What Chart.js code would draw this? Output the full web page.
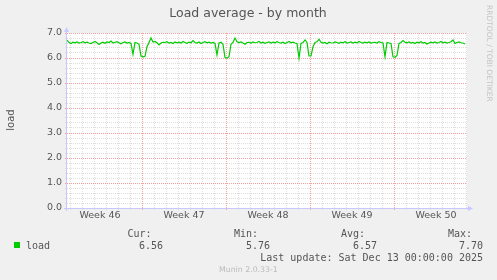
<!DOCTYPE html>
<html>
<head>
<meta charset="utf-8">
<script src="https://cdn.jsdelivr.net/npm/chart.js@4.4.0/dist/chart.umd.min.js"></script>
<style>
  html, body { margin: 0; padding: 0; background: #f0f0f0; }
  canvas { display: block; }
</style>
</head>
<body>
<canvas id="loadChart" width="497" height="280"></canvas>
<script>
// Load average, one sample every 4 hours from the left edge of the graph
const stepHours = 4;
const loadValues = [
  6.72, 6.62, 6.58, 6.63, 6.61, 6.64, 6.60, 6.62, 6.65, 6.61,
  6.63, 6.60, 6.58, 6.62, 6.66, 6.61, 6.54, 6.60, 6.63, 6.59,
  6.64, 6.62, 6.68, 6.60, 6.63, 6.65, 6.61, 6.57, 6.62, 6.64,
  6.60, 6.62, 6.58, 6.15, 6.62, 6.60, 6.55, 6.08, 6.05, 6.07,
  6.45, 6.62, 6.80, 6.64, 6.66, 6.61, 6.52, 6.60, 6.63, 6.62,
  6.65, 6.60, 6.62, 6.58, 6.64, 6.61, 6.63, 6.60, 6.66, 6.62,
  6.59, 6.63, 6.61, 6.70, 6.62, 6.60, 6.64, 6.58, 6.62, 6.65,
  6.61, 6.63, 6.60, 6.62, 6.58, 6.12, 6.60, 6.63, 6.55, 6.02,
  6.00, 6.05, 6.55, 6.62, 6.80, 6.65, 6.62, 6.64, 6.60, 6.55,
  6.62, 6.63, 6.60, 6.64, 6.61, 6.62, 6.66, 6.60, 6.63, 6.59,
  6.62, 6.64, 6.60, 6.63, 6.61, 6.65, 6.62, 6.60, 6.63, 6.58,
  6.62, 6.66, 6.61, 6.63, 6.60, 6.58, 6.00, 6.58, 6.62, 6.72,
  6.62, 6.08, 6.08, 6.45, 6.62, 6.65, 6.75, 6.63, 6.60, 6.62,
  6.57, 6.63, 6.61, 6.60, 6.64, 6.62, 6.59, 6.63, 6.61, 6.65,
  6.60, 6.62, 6.64, 6.60, 6.63, 6.61, 6.66, 6.62, 6.60, 6.63,
  6.61, 6.64, 6.60, 6.62, 6.63, 6.60, 6.65, 6.62, 6.60, 6.05,
  6.62, 6.60, 6.58, 6.05, 6.03, 6.10, 6.58, 6.62, 6.70, 6.63,
  6.61, 6.64, 6.60, 6.62, 6.58, 6.63, 6.61, 6.65, 6.60, 6.62,
  6.56, 6.60, 6.63, 6.61, 6.64, 6.60, 6.62, 6.66, 6.61, 6.63,
  6.60, 6.62, 6.65, 6.72, 6.58, 6.62, 6.64, 6.61, 6.60, 6.56
];

// Time axis (hours from left edge)
const spanHours = 800;
const firstDayLine = 6;
const weekStartHours = [150, 318, 486, 654];
const weekMidHours = [66, 234, 402, 570, 738];
const weekLabels = ['Week 46', 'Week 47', 'Week 48', 'Week 49', 'Week 50'];

// Value axis
const yMax = 7;
const yMinorStep = 0.2;

// Legend
const seriesName = 'load';
const statLabels = ['Cur:', 'Min:', 'Avg:', 'Max:'];
const statValues = ['6.56', '5.76', '6.57', '7.70'];
const lastUpdate = 'Last update: Sat Dec 13 00:00:00 2025';

const points = loadValues.map((v, i) => ({ x: i * stepHours, y: v }));

const majorGrid = '#f4a0a0';
const minorGrid = '#dedede';
const axisColor = '#c8c8ff';
const textColor = '#555555';

// background, white plot area, texts and axis arrows
const muninDecor = {
  id: 'muninDecor',
  beforeDraw(chart) {
    const { ctx, chartArea: a } = chart;
    ctx.save();
    ctx.fillStyle = '#f0f0f0';
    ctx.fillRect(0, 0, chart.width, chart.height);
    ctx.fillStyle = '#ffffff';
    ctx.fillRect(a.left, a.top, a.right - a.left, a.bottom - a.top);
    ctx.restore();
  },
  afterDraw(chart) {
    const { ctx, chartArea: a } = chart;
    ctx.save();
    // title
    ctx.fillStyle = textColor;
    ctx.font = '12.5px "DejaVu Sans"';
    ctx.textAlign = 'center';
    ctx.textBaseline = 'alphabetic';
    ctx.fillText('Load average - by month', 248, 17);

    // y axis title
    ctx.save();
    ctx.translate(14, 120);
    ctx.rotate(-Math.PI / 2);
    ctx.font = '10px "DejaVu Sans"';
    ctx.fillText(seriesName, 0, 0);
    ctx.restore();

    // rrdtool credit on the right
    ctx.save();
    ctx.translate(487, 5);
    ctx.rotate(Math.PI / 2);
    ctx.fillStyle = '#c4c4c4';
    ctx.font = '7.5px "DejaVu Sans"';
    ctx.textAlign = 'left';
    ctx.fillText('RRDTOOL / TOBI OETIKER', 0, 0);
    ctx.restore();

    // arrows on the axes
    ctx.fillStyle = axisColor;
    ctx.beginPath();
    ctx.moveTo(a.left - 3, a.top - 1);
    ctx.lineTo(a.left + 2, a.top - 1);
    ctx.lineTo(a.left - 0.5, a.top - 6);
    ctx.closePath();
    ctx.fill();
    ctx.beginPath();
    ctx.moveTo(a.right + 1, a.bottom - 2);
    ctx.lineTo(a.right + 1, a.bottom + 3);
    ctx.lineTo(a.right + 6, a.bottom + 0.5);
    ctx.closePath();
    ctx.fill();
    ctx.strokeStyle = axisColor;
    ctx.lineWidth = 1;
    ctx.beginPath();
    ctx.moveTo(a.left - 0.5, a.top - 1);
    ctx.lineTo(a.left - 0.5, a.bottom + 3);
    ctx.moveTo(a.left - 3, a.bottom + 0.5);
    ctx.lineTo(a.right + 1, a.bottom + 0.5);
    ctx.stroke();

    // legend
    ctx.fillStyle = '#00cc00';
    ctx.fillRect(14, 242, 6, 6);
    ctx.fillStyle = textColor;
    ctx.font = '10px "DejaVu Sans Mono"';
    ctx.textAlign = 'left';
    ctx.fillText(seriesName, 26, 249);
    const labelX = [127.5, 234, 341, 448];
    const valueX = [139, 246, 353, 459];
    statLabels.forEach((t, i) => ctx.fillText(t, labelX[i], 237));
    statValues.forEach((t, i) => ctx.fillText(t, valueX[i], 249));
    ctx.textAlign = 'right';
    ctx.fillText(lastUpdate, 483, 261);

    ctx.fillStyle = '#bbbbbb';
    ctx.font = '7.8px "DejaVu Sans"';
    ctx.textAlign = 'left';
    ctx.fillText('Munin 2.0.33-1', 219, 272);
    ctx.restore();
  }
};

const ctx = document.getElementById('loadChart').getContext('2d');

new Chart(ctx, {
  type: 'line',
  data: {
    datasets: [{
      label: seriesName,
      data: points,
      borderColor: '#00cc00',
      borderWidth: 1.2,
      pointRadius: 0,
      tension: 0,
      fill: false
    }]
  },
  options: {
    responsive: false,
    animation: false,
    devicePixelRatio: 1,
    layout: { padding: { top: 33, right: 30, left: 0, bottom: 0 } },
    plugins: {
      legend: { display: false },
      tooltip: { enabled: false }
    },
    scales: {
      x: {
        type: 'linear',
        min: 0,
        max: spanHours,
        afterFit: (s) => { s.height = 72; },
        afterBuildTicks: (s) => {
          const vals = [];
          for (let h = firstDayLine; h < spanHours; h += 24) vals.push(h);
          weekMidHours.forEach(h => vals.push(h));
          vals.sort((p, q) => p - q);
          s.ticks = vals.map(v => ({ value: v }));
        },
        ticks: {
          autoSkip: false,
          maxRotation: 0,
          padding: 0,
          color: textColor,
          font: { family: 'DejaVu Sans', size: 9.5 },
          callback: (v) => {
            const i = weekMidHours.indexOf(v);
            return i >= 0 ? weekLabels[i] : '';
          }
        },
        grid: {
          tickLength: 2,
          lineWidth: 1,
          color: (c) => {
            const v = c.tick && c.tick.value;
            if (weekMidHours.includes(v)) return 'rgba(0,0,0,0)';
            return weekStartHours.includes(v) ? majorGrid : minorGrid;
          }
        },
        border: { display: false, dash: [1, 1] }
      },
      y: {
        min: 0,
        max: yMax,
        afterFit: (s) => { s.width = 67; },
        afterBuildTicks: (s) => {
          const vals = [];
          const n = Math.round(yMax / yMinorStep);
          for (let i = 0; i <= n; i++) vals.push(Math.round(i * yMinorStep * 10) / 10);
          s.ticks = vals.map(v => ({ value: v }));
        },
        ticks: {
          autoSkip: false,
          padding: 3,
          color: textColor,
          font: { family: 'DejaVu Sans', size: 9.5 },
          callback: (v) => Number.isInteger(v) ? v.toFixed(1) : ''
        },
        grid: {
          tickLength: 2,
          lineWidth: 1,
          color: (c) => {
            const v = c.tick && c.tick.value;
            return Number.isInteger(v) ? majorGrid : minorGrid;
          }
        },
        border: { display: false, dash: [1, 1] }
      }
    }
  },
  plugins: [muninDecor]
});
</script>
</body>
</html>
